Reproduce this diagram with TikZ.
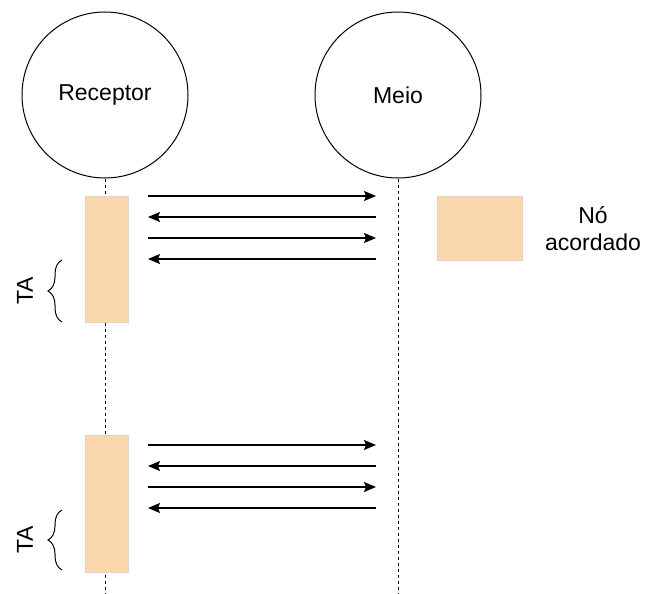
\documentclass[tikz,border=0pt]{standalone}
\usepackage{fontspec}
\setmainfont{Liberation Sans}
\usetikzlibrary{arrows.meta,decorations.pathreplacing}
\definecolor{boxfill}{HTML}{FAD7AC}
\definecolor{boxline}{HTML}{E2D4C4}
\begin{document}
\begin{tikzpicture}[x=1pt,y=-1pt,
  actor/.style={circle,draw=black,line width=1pt,minimum size=166pt,inner sep=0pt,font=\fontsize{23pt}{27pt}\selectfont},
  life/.style={line width=1pt,dash pattern=on 3pt off 3pt},
  act/.style={draw=boxline,fill=boxfill,line width=0.8pt,minimum width=43pt,inner sep=0pt},
  msg/.style={line width=1.2pt,-{Stealth[length=12pt,width=10pt,inset=2pt]}},
  lbl/.style={font=\fontsize{23pt}{27pt}\selectfont,align=center,inner sep=0pt},
  brc/.style={line width=1pt,decorate,decoration={brace,amplitude=14pt}}]
\useasboundingbox (0,0) rectangle (656,594);
% actors
\node[actor] (rec) at (105,95) {Receptor};
\node[actor] (meio) at (398,95) {Meio};
\coordinate (recend) at (105,594);
\coordinate (meioend) at (398,594);
\draw[life] (rec.south) -- (recend);
\draw[life] (meio.south) -- (meioend);
% activation boxes
\node[act,minimum height=126pt] (a1) at (106.5,259) {};
\node[act,minimum height=137pt] (a2) at (106.5,503.5) {};
% legend
\node[act,minimum width=85pt,minimum height=64pt] (leg) at (479.5,228) {};
\node[lbl] (legt) at (593,229) {Nó\\acordado};
% messages group 1
\coordinate (l1) at (148,196); \coordinate (r1) at (376,196);
\coordinate (l2) at (148,217); \coordinate (r2) at (376,217);
\coordinate (l3) at (148,238); \coordinate (r3) at (376,238);
\coordinate (l4) at (148,259); \coordinate (r4) at (376,259);
\draw[msg] (l1) -- (r1);
\draw[msg] (r2) -- (l2);
\draw[msg] (l3) -- (r3);
\draw[msg] (r4) -- (l4);
% messages group 2
\coordinate (m1) at (148,445); \coordinate (s1) at (376,445);
\coordinate (m2) at (148,466); \coordinate (s2) at (376,466);
\coordinate (m3) at (148,487); \coordinate (s3) at (376,487);
\coordinate (m4) at (148,508); \coordinate (s4) at (376,508);
\draw[msg] (m1) -- (s1);
\draw[msg] (s2) -- (m2);
\draw[msg] (m3) -- (s3);
\draw[msg] (s4) -- (m4);
% braces
\coordinate (b1b) at (62,322); \coordinate (b1t) at (62,260);
\coordinate (b2b) at (62,570); \coordinate (b2t) at (62,510);
\draw[brc] (b1b) -- (b1t);
\draw[brc] (b2b) -- (b2t);
\node[lbl,rotate=90] (ta1) at (25,291) {TA};
\node[lbl,rotate=90] (ta2) at (25,540) {TA};
\end{tikzpicture}
\end{document}
